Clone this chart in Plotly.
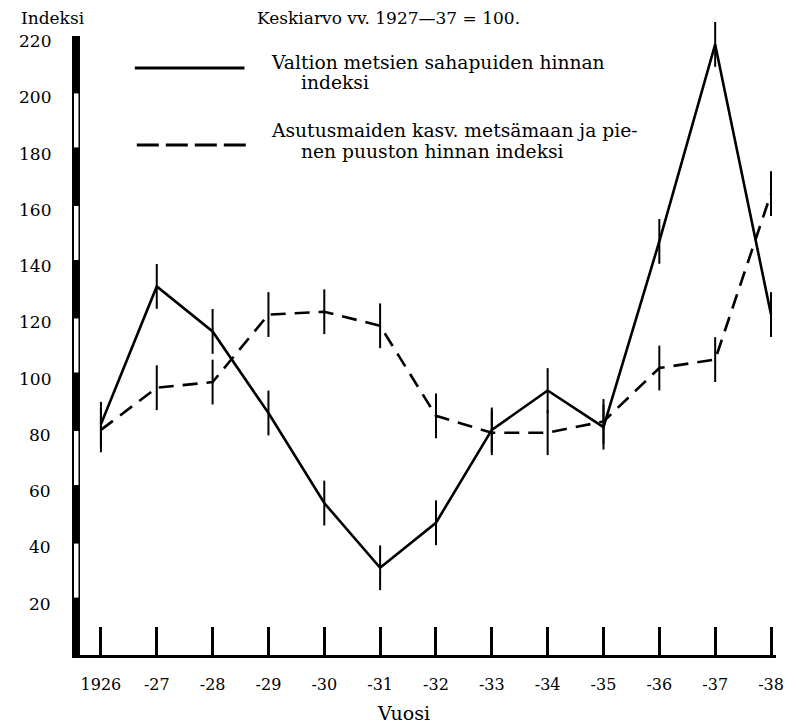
import plotly.graph_objects as go

years = [1926, 1927, 1928, 1929, 1930, 1931, 1932, 1933, 1934, 1935, 1936, 1937, 1938]
tick_labels = ["1926", "-27", "-28", "-29", "-30", "-31", "-32", "-33", "-34", "-35", "-36", "-37", "-38"]
valtion = [82, 131, 115, 86, 54, 31, 47, 80, 94, 81, 147, 217, 121]
asutus = [80, 95, 97, 121, 122, 117, 85, 79, 79, 83, 102, 105, 164]
y_ticks = [20, 40, 60, 80, 100, 120, 140, 160, 180, 200, 220]

FONT = "DejaVu Serif, serif"
# page body has an 8px margin; figure is sized/offset to compensate
OFF = 8
W, H = 796 - OFF, 724 - OFF
L, R, T, B = 72 - OFF, 18, 36 - OFF, 69
PW = W - L - R
PH = H - T - B

def px(x):  # reference pixel -> paper
    return (x - OFF - L) / PW

def py(y):
    return (H - B - (y - OFF)) / PH

fig = go.Figure()
fig.add_trace(go.Scatter(
    x=years, y=valtion, mode="lines+markers",
    line=dict(color="black", width=2.6),
    marker=dict(symbol="line-ns", size=32, line=dict(color="black", width=2)),
    cliponaxis=False, showlegend=False))
fig.add_trace(go.Scatter(
    x=years, y=asutus, mode="lines+markers",
    line=dict(color="black", width=2.6, dash="15px,9px"),
    marker=dict(symbol="line-ns", size=32, line=dict(color="black", width=2)),
    cliponaxis=False, showlegend=False))

shapes = []
bar_w = 8 / PW
shapes.append(dict(type="rect", xref="paper", yref="y", x0=0, x1=bar_w, y0=0, y1=220,
                   fillcolor="black", line=dict(width=0), layer="above"))
for lo in [20, 60, 100, 140, 180]:
    shapes.append(dict(type="rect", xref="paper", yref="y", x0=2 / PW, x1=6.5 / PW,
                       y0=lo + 0.4, y1=lo + 19.6,
                       fillcolor="white", line=dict(width=0), layer="above"))
shapes.append(dict(type="line", xref="paper", yref="paper", x0=px(135), x1=px(245),
                   y0=py(68), y1=py(68), line=dict(color="black", width=3)))
shapes.append(dict(type="line", xref="paper", yref="paper", x0=px(137), x1=px(247),
                   y0=py(145), y1=py(145), line=dict(color="black", width=3, dash="22px,7px")))

ann = []
def text(t, x, y, size=18.7, xanchor="left"):
    ann.append(dict(text=t, x=px(x), y=py(y), xref="paper", yref="paper",
                    xanchor=xanchor, yanchor="middle", showarrow=False,
                    font=dict(family=FONT, size=size, color="black")))

text("Indeksi", 53, 18.5, 17, "center")
text("Keskiarvo vv. 1927—37 = 100.", 256, 18.5, 17)
text("Valtion metsien sahapuiden hinnan", 270, 62)
text("indeksi", 300, 82)
text("Asutusmaiden kasv. metsämaan ja pie-", 270, 131)
text("nen puuston hinnan indeksi", 300, 151)
text("Vuosi", 404, 713, 19, "center")

for v in y_ticks:
    ann.append(dict(text=str(v), x=px(53), y=v, xref="paper", yref="y", yshift=-5,
                    xanchor="right", yanchor="middle", showarrow=False,
                    font=dict(family=FONT, size=17, color="black")))

fig.update_layout(
    width=W, height=H,
    margin=dict(l=L, r=R, t=T, b=B),
    paper_bgcolor="white", plot_bgcolor="white",
    shapes=shapes, annotations=ann,
    font=dict(family=FONT, color="black"),
    xaxis=dict(range=[1926 - 29 / 56, 1938 + 5 / 56], tickvals=years, ticktext=tick_labels,
               ticks="inside", ticklen=28, tickwidth=2.5, tickcolor="black",
               showline=True, linecolor="black", linewidth=3, showgrid=False, zeroline=False,
               tickfont=dict(family=FONT, size=16), ticklabelstandoff=13),
    yaxis=dict(range=[0, 220], showticklabels=False, ticks="", showline=False,
               showgrid=False, zeroline=False),
)
fig.write_html("out.html")
